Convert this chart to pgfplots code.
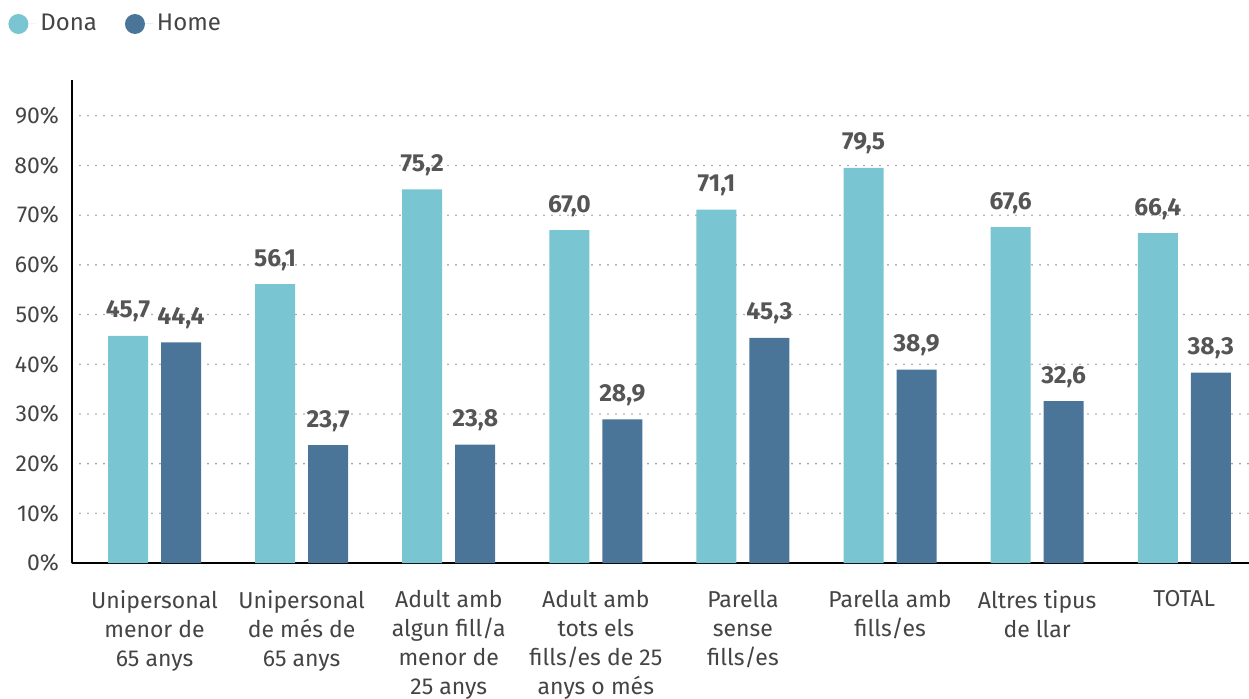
\documentclass[border=0pt]{standalone}
\usepackage{pgfplots}
\pgfplotsset{compat=1.18}
\usepackage{fontspec}
\setmainfont{Fira Sans}
\definecolor{dona}{HTML}{79C5D1}
\definecolor{home}{HTML}{4A7598}
\definecolor{txt}{HTML}{444444}
\definecolor{val}{HTML}{555555}
\begin{document}
\begin{tikzpicture}
\begin{axis}[name=ax,
  scale only axis, width=588.5pt, height=241.5pt,
  xmin=-0.561, xmax=7.44, ymin=0, ymax=97.2,
  ybar=6.5pt, bar width=20pt,
  axis x line*=bottom, axis y line*=left,
  axis line style={-, line width=1pt, black},
  ytick={0,10,...,90},
  ymajorgrids,
  grid style={line width=0.9pt, line cap=round, dash pattern=on 0pt off 4pt, gray!80},
  major tick length=0pt,
  /pgf/number format/assume math mode=true,
  yticklabel={\pgfmathprintnumber{\tick}\%},
  yticklabel style={font=\fontsize{11.5}{14}\selectfont, text=txt, xshift=-3pt},
  xtick={0,...,7},
  xticklabels={{Unipersonal\\menor de\\65 anys},{Unipersonal\\de més de\\65 anys},{Adult amb\\algun fill/a\\menor de\\25 anys},{Adult amb\\tots els\\fills/es de 25\\anys o més},{Parella\\sense\\fills/es},{Parella amb\\fills/es},{Altres tipus\\de llar},{TOTAL}},
  xticklabel style={font=\fontsize{11.5}{14.5}\selectfont, text=txt, align=center, yshift=-10pt},
  nodes near coords={\pgfmathprintnumber[fixed,fixed zerofill,precision=1,use comma]{\pgfplotspointmeta}},
  every node near coord/.append style={font=\bfseries\fontsize{12.3}{14}\selectfont, text=val, anchor=base, inner sep=0pt, yshift=9pt},
  legend columns=2,
  legend style={at={(0,1)}, anchor=west, xshift=-35pt, yshift=28pt, draw=none, fill=none,
    font=\fontsize{12}{14}\selectfont, text=txt,
    /tikz/every even column/.append style={column sep=12pt}},
  legend image code/.code={\fill[#1] (0pt,0pt) circle (5pt); \path (-5pt,0pt) -- (9pt,0pt);},
]
\addplot[fill=dona, draw=none] coordinates {
  (0,45.7) (1,56.1) (2,75.2) (3,67.0) (4,71.1) (5,79.5) (6,67.6) (7,66.4)};
\addlegendentry{Dona}
\addplot[fill=home, draw=none] coordinates {
  (0,44.4) (1,23.7) (2,23.8) (3,28.9) (4,45.3) (5,38.9) (6,32.6) (7,38.3)};
\addlegendentry{Home}
\end{axis}
\pgfresetboundingbox
\path[use as bounding box] ([xshift=-36pt,yshift=-67.5pt]ax.south west) rectangle ([yshift=40pt]ax.north east);
\end{tikzpicture}
\end{document}
